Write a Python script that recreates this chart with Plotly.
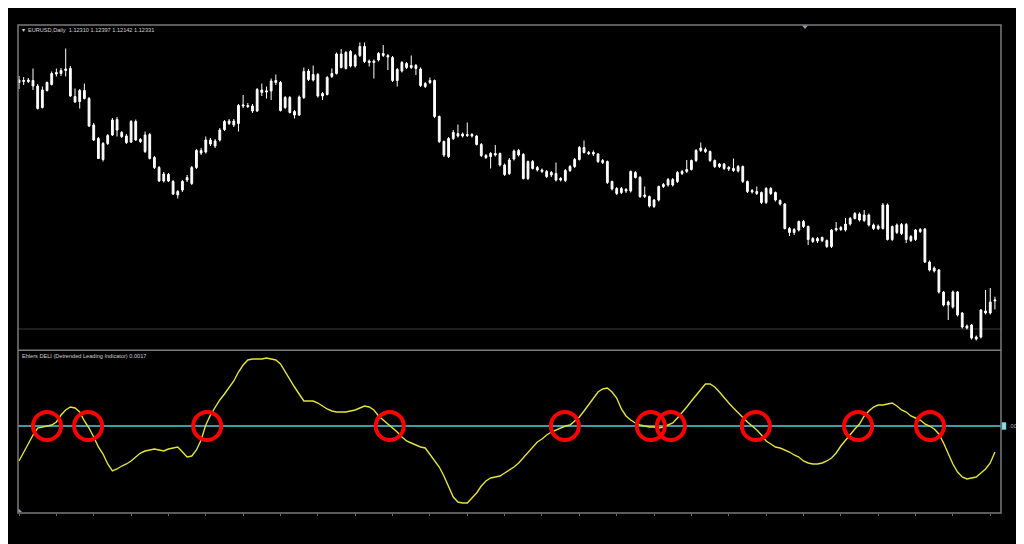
import plotly.graph_objects as go

# ---------------- data ----------------
bars = list(range(210))

open_ = [1.1673,1.1670,1.1673,1.1672,1.1661,1.1618,1.1652,1.1664,1.1688,1.1686,
         1.1692,1.1696,1.1640,1.1630,1.1652,1.1636,1.1583,1.1556,1.1514,1.1546,
         1.1563,1.1594,1.1568,1.1561,1.1549,1.1590,1.1554,1.1563,1.1564,1.1518,
         1.1498,1.1471,1.1484,1.1470,1.1443,1.1453,1.1473,1.1466,1.1498,1.1532,
         1.1529,1.1553,1.1541,1.1553,1.1574,1.1591,1.1583,1.1586,1.1621,1.1622,
         1.1621,1.1611,1.1653,1.1649,1.1651,1.1672,1.1668,1.1618,1.1638,1.1610,
         1.1603,1.1638,1.1691,1.1673,1.1684,1.1641,1.1644,1.1680,1.1686,1.1725,
         1.1696,1.1730,1.1701,1.1722,1.1740,1.1708,1.1711,1.1713,1.1726,1.1722,
         1.1718,1.1672,1.1691,1.1706,1.1698,1.1702,1.1695,1.1660,1.1668,1.1672,
         1.1600,1.1550,1.1520,1.1556,1.1566,1.1561,1.1564,1.1561,1.1561,1.1544,
         1.1522,1.1520,1.1526,1.1526,1.1503,1.1486,1.1515,1.1532,1.1524,1.1476,
         1.1510,1.1498,1.1493,1.1490,1.1483,1.1486,1.1473,1.1472,1.1492,1.1500,
         1.1514,1.1538,1.1528,1.1525,1.1525,1.1512,1.1510,1.1470,1.1456,1.1448,
         1.1454,1.1451,1.1488,1.1478,1.1440,1.1440,1.1420,1.1433,1.1460,1.1463,
         1.1474,1.1470,1.1486,1.1490,1.1494,1.1512,1.1532,1.1534,1.1530,1.1512,
         1.1500,1.1505,1.1498,1.1496,1.1491,1.1500,1.1470,1.1449,1.1450,1.1448,
         1.1428,1.1456,1.1448,1.1432,1.1425,1.1376,1.1368,1.1373,1.1390,1.1380,
         1.1356,1.1351,1.1358,1.1352,1.1340,1.1373,1.1378,1.1373,1.1385,1.1396,
         1.1405,1.1392,1.1403,1.1383,1.1376,1.1376,1.1423,1.1354,1.1383,1.1366,
         1.1384,1.1352,1.1354,1.1374,1.1375,1.1309,1.1291,1.1293,1.1249,1.1223,
         1.1219,1.1249,1.1207,1.1181,1.1183,1.1155,1.1159,1.1211,1.1207,1.12310]

high = [1.1681,1.1679,1.1677,1.1696,1.1665,1.1660,1.1670,1.1690,1.1696,1.1697,
        1.1736,1.1701,1.1656,1.1655,1.1666,1.1639,1.1587,1.1559,1.1549,1.1565,
        1.1597,1.1599,1.1571,1.1565,1.1593,1.1594,1.1557,1.1570,1.1567,1.1521,
        1.1501,1.1489,1.1487,1.1473,1.1453,1.1473,1.1483,1.1501,1.1535,1.1537,
        1.1560,1.1557,1.1555,1.1577,1.1593,1.1595,1.1595,1.1625,1.1643,1.1627,
        1.1625,1.1657,1.1666,1.1660,1.1676,1.1684,1.1671,1.1641,1.1641,1.1613,
        1.1642,1.1698,1.1695,1.1702,1.1687,1.1649,1.1681,1.1696,1.1728,1.1735,
        1.1731,1.1733,1.1725,1.1748,1.1748,1.1714,1.1714,1.1729,1.1743,1.1725,
        1.1721,1.1697,1.1711,1.1709,1.1722,1.1705,1.1698,1.1669,1.1678,1.1674,
        1.1602,1.1552,1.1559,1.1573,1.1584,1.1568,1.1588,1.1567,1.1563,1.1547,
        1.1525,1.1529,1.1543,1.1528,1.1506,1.1517,1.1534,1.1535,1.1527,1.1512,
        1.1513,1.1501,1.1496,1.1493,1.1491,1.1508,1.1479,1.1495,1.1503,1.1517,
        1.1541,1.1552,1.1531,1.1532,1.1527,1.1515,1.1512,1.1472,1.1459,1.1459,
        1.1457,1.1492,1.1491,1.1481,1.1460,1.1442,1.1435,1.1462,1.1467,1.1477,
        1.1477,1.1491,1.1493,1.1513,1.1514,1.1535,1.1548,1.1538,1.1532,1.1514,
        1.1507,1.1507,1.1501,1.1516,1.1503,1.1502,1.1472,1.1455,1.1460,1.1450,
        1.1459,1.1459,1.1450,1.1434,1.1427,1.1379,1.1377,1.1392,1.1393,1.1382,
        1.1359,1.1359,1.1360,1.1354,1.1375,1.1389,1.1381,1.1397,1.1399,1.1409,
        1.1408,1.1413,1.1406,1.1386,1.1384,1.1427,1.1426,1.1382,1.1386,1.1387,
        1.1387,1.1363,1.1375,1.1377,1.1377,1.1312,1.1300,1.1295,1.1251,1.1232,
        1.1252,1.1251,1.1209,1.1184,1.1185,1.1162,1.1215,1.1253,1.1257,1.12397]

low = [1.1655,1.1663,1.1667,1.1653,1.1614,1.1616,1.1650,1.1662,1.1680,1.1681,
       1.1680,1.1639,1.1627,1.1616,1.1634,1.1579,1.1551,1.1515,1.1510,1.1543,
       1.1561,1.1560,1.1557,1.1545,1.1547,1.1551,1.1547,1.1527,1.1514,1.1495,
       1.1469,1.1468,1.1469,1.1443,1.1436,1.1449,1.1469,1.1463,1.1495,1.1523,
       1.1526,1.1541,1.1537,1.1550,1.1571,1.1583,1.1579,1.1570,1.1617,1.1617,
       1.1607,1.1609,1.1641,1.1636,1.1633,1.1663,1.1610,1.1615,1.1606,1.1596,
       1.1601,1.1635,1.1671,1.1670,1.1638,1.1633,1.1642,1.1677,1.1684,1.1696,
       1.1694,1.1698,1.1698,1.1719,1.1707,1.1700,1.1676,1.1710,1.1719,1.1693,
       1.1669,1.1660,1.1688,1.1695,1.1695,1.1683,1.1659,1.1657,1.1665,1.1597,
       1.1547,1.1519,1.1517,1.1553,1.1558,1.1558,1.1559,1.1558,1.1542,1.1519,
       1.1515,1.1496,1.1520,1.1500,1.1481,1.1483,1.1512,1.1520,1.1474,1.1473,
       1.1494,1.1490,1.1487,1.1477,1.1479,1.1470,1.1470,1.1469,1.1489,1.1497,
       1.1512,1.1526,1.1523,1.1521,1.1507,1.1505,1.1465,1.1452,1.1443,1.1445,
       1.1447,1.1448,1.1476,1.1437,1.1437,1.1418,1.1417,1.1430,1.1457,1.1460,
       1.1460,1.1467,1.1483,1.1487,1.1492,1.1509,1.1529,1.1527,1.1509,1.1497,
       1.1497,1.1493,1.1491,1.1489,1.1488,1.1467,1.1447,1.1446,1.1443,1.1425,
       1.1425,1.1443,1.1430,1.1422,1.1374,1.1361,1.1363,1.1370,1.1377,1.1343,
       1.1347,1.1347,1.1349,1.1337,1.1337,1.1370,1.1371,1.1370,1.1382,1.1394,
       1.1390,1.1389,1.1380,1.1373,1.1373,1.1374,1.1352,1.1351,1.1365,1.1363,
       1.1347,1.1349,1.1351,1.1367,1.1307,1.1290,1.1288,1.1246,1.1220,1.1193,
       1.1216,1.1200,1.1176,1.1174,1.1154,1.1152,1.1156,1.1204,1.1204,1.12142]

close = [1.1668,1.1672,1.1670,1.1661,1.1616,1.1653,1.1668,1.1686,1.1685,1.1692,
         1.1695,1.1641,1.1629,1.1652,1.1636,1.1581,1.1553,1.1516,1.1546,1.1562,
         1.1593,1.1573,1.1560,1.1548,1.1590,1.1553,1.1550,1.1530,1.1516,1.1498,
         1.1471,1.1485,1.1471,1.1445,1.1450,1.1470,1.1478,1.1498,1.1532,1.1527,
         1.1553,1.1545,1.1551,1.1573,1.1590,1.1586,1.1591,1.1622,1.1623,1.1620,
         1.1611,1.1654,1.1648,1.1651,1.1671,1.1668,1.1612,1.1638,1.1608,1.1603,
         1.1639,1.1690,1.1674,1.1684,1.1641,1.1646,1.1678,1.1686,1.1725,1.1698,
         1.1728,1.1701,1.1722,1.1740,1.1710,1.1711,1.1708,1.1726,1.1722,1.1719,
         1.1672,1.1694,1.1708,1.1698,1.1702,1.1696,1.1662,1.1666,1.1672,1.1600,
         1.1550,1.1523,1.1556,1.1568,1.1561,1.1565,1.1562,1.1564,1.1544,1.1522,
         1.1518,1.1526,1.1523,1.1503,1.1484,1.1513,1.1531,1.1523,1.1476,1.1510,
         1.1496,1.1493,1.1490,1.1480,1.1488,1.1473,1.1476,1.1492,1.1500,1.1514,
         1.1538,1.1528,1.1526,1.1528,1.1510,1.1508,1.1468,1.1455,1.1446,1.1456,
         1.1451,1.1490,1.1478,1.1440,1.1443,1.1421,1.1433,1.1460,1.1464,1.1474,
         1.1463,1.1488,1.1490,1.1494,1.1512,1.1532,1.1537,1.1530,1.1512,1.1500,
         1.1505,1.1496,1.1495,1.1492,1.1500,1.1470,1.1450,1.1452,1.1446,1.1428,
         1.1456,1.1446,1.1433,1.1425,1.1376,1.1368,1.1374,1.1390,1.1380,1.1354,
         1.1350,1.1356,1.1352,1.1340,1.1373,1.1376,1.1374,1.1385,1.1396,1.1406,
         1.1393,1.1403,1.1383,1.1376,1.1381,1.1423,1.1354,1.1380,1.1368,1.1384,
         1.1354,1.1360,1.1373,1.1370,1.1309,1.1293,1.1297,1.1249,1.1223,1.1229,
         1.1249,1.1203,1.1179,1.1177,1.1157,1.1159,1.1213,1.1207,1.1229,1.12331]

deli = [-0.0035,-0.0026,-0.0018,-0.0009,-0.0002,-0.0001,0.0000,0.0001,0.0004,0.0011,
        0.0016,0.0019,0.0018,0.0014,0.0005,-0.0002,-0.0011,-0.0021,-0.0028,-0.0038,
        -0.0045,-0.0043,-0.0040,-0.0038,-0.0035,-0.0031,-0.0027,-0.0025,-0.0024,-0.0023,
        -0.0024,-0.0025,-0.0023,-0.0022,-0.0021,-0.0026,-0.0031,-0.0030,-0.0024,-0.0014,
        0.0001,0.0011,0.0019,0.0026,0.0032,0.0038,0.0045,0.0054,0.0061,0.0066,
        0.0067,0.0067,0.0067,0.0068,0.0067,0.0066,0.0062,0.0054,0.0046,0.0039,
        0.0032,0.0025,0.0025,0.0025,0.0023,0.0020,0.0017,0.0015,0.0014,0.0014,
        0.0014,0.0015,0.0016,0.0018,0.0020,0.0019,0.0016,0.0010,0.0006,0.0002,
        -0.0002,-0.0006,-0.0011,-0.0015,-0.0017,-0.0019,-0.0021,-0.0022,-0.0028,-0.0034,
        -0.0041,-0.0050,-0.0061,-0.0071,-0.0076,-0.0077,-0.0077,-0.0072,-0.0067,-0.0060,
        -0.0055,-0.0052,-0.0051,-0.0050,-0.0047,-0.0044,-0.0041,-0.0037,-0.0032,-0.0026,
        -0.0021,-0.0016,-0.0013,-0.0009,-0.0006,-0.0004,-0.0002,0.0000,0.0001,0.0005,
        0.0009,0.0015,0.0021,0.0028,0.0034,0.0037,0.0038,0.0034,0.0028,0.0017,
        0.0010,0.0006,0.0003,0.0001,0.0000,-0.0001,-0.0001,-0.0002,-0.0001,0.0001,
        0.0003,0.0008,0.0013,0.0019,0.0025,0.0031,0.0036,0.0042,0.0042,0.0039,
        0.0034,0.0028,0.0023,0.0018,0.0013,0.0008,0.0004,0.0000,-0.0004,-0.0009,
        -0.0015,-0.0018,-0.0021,-0.0022,-0.0024,-0.0026,-0.0029,-0.0031,-0.0035,-0.0037,
        -0.0038,-0.0038,-0.0037,-0.0035,-0.0032,-0.0027,-0.0020,-0.0014,-0.0008,-0.0003,
        0.0002,0.0010,0.0015,0.0019,0.0021,0.0021,0.0022,0.0023,0.0020,0.0016,
        0.0014,0.0010,0.0008,0.0006,0.0002,0.0000,-0.0003,-0.0008,-0.0017,-0.0028,
        -0.0038,-0.0046,-0.0051,-0.0053,-0.0052,-0.0051,-0.0047,-0.0043,-0.0037,-0.0026]

signal_bars = [6.0, 14.8, 40.3, 79.4, 116.9, 135.3, 139.6, 157.8, 179.7, 195.1]
signal_level = [0.0] * len(signal_bars)

header_text = "EURUSD,Daily\u00a0 1.12310 1.12397 1.12142 1.12331"
indicator_text = "Ehlers DELI (Detrended Leading Indicator) 0.0017"
zero_label = ".00"
price_line_level = 1.1175

# ---------------- layout helpers ----------------
# the page body has an 8px margin, so the figure is drawn 8px in from the corner
PAGE = 8
W, H = 1024 - PAGE, 544 - PAGE
L, R, T, B = 18, 1001, 25, 513          # plot area in screen pixels


def px(x):
    return (x - L) / (R - L)


def py(y):
    return (B - y) / (B - T)


BORDER = "#7a7a7a"
FONT = "Liberation Sans"

fig = go.Figure()

fig.add_trace(go.Candlestick(
    x=bars, open=open_, high=high, low=low, close=close,
    increasing=dict(line=dict(color="#ffffff", width=1), fillcolor="#ffffff"),
    decreasing=dict(line=dict(color="#ffffff", width=1), fillcolor="#ffffff"),
    whiskerwidth=0, showlegend=False, xaxis="x", yaxis="y",
))

fig.add_trace(go.Scatter(
    x=bars, y=deli, mode="lines",
    line=dict(color="#e3e33a", width=1.4),
    showlegend=False, xaxis="x", yaxis="y2",
))

fig.add_trace(go.Scatter(
    x=signal_bars, y=signal_level, mode="markers",
    marker=dict(symbol="circle-open", size=28, color="#ff0000",
                line=dict(color="#ff0000", width=4)),
    showlegend=False, xaxis="x", yaxis="y2", cliponaxis=False,
))

shapes = [
    dict(type="line", xref="paper", yref="y", x0=0, x1=1,
         y0=price_line_level, y1=price_line_level,
         line=dict(color="#3a3a3a", width=1), layer="below"),
    dict(type="line", xref="paper", yref="y2", x0=0, x1=1, y0=0, y1=0,
         line=dict(color="#3c9ca4", width=2), layer="below"),
    dict(type="rect", xref="paper", yref="paper", x0=0, x1=1, y0=0, y1=1,
         line=dict(color=BORDER, width=1.5)),
    dict(type="line", xref="paper", yref="paper", x0=0, x1=1,
         y0=py(350.3), y1=py(350.3), line=dict(color=BORDER, width=1.5)),
    dict(type="rect", xref="paper", yref="y2", x0=px(1002), x1=px(1006),
         y0=-0.00035, y1=0.00035, fillcolor="#8fdde3",
         line=dict(color="#5fb8c0", width=0.5)),
    dict(type="path", xref="paper", yref="paper",
         path=f"M {px(802)} {py(25.5)} L {px(808)} {py(25.5)} L {px(805)} {py(29)} Z",
         fillcolor="#8c9cac", line=dict(width=0)),
    dict(type="path", xref="paper", yref="paper",
         path=f"M {px(18.5)} {py(512)} L {px(22)} {py(512)} L {px(18.5)} {py(508.5)} Z",
         fillcolor="#8c9cac", line=dict(width=0)),
]

annotations = [
    dict(text="\u25be", xref="paper", yref="paper", x=px(20), y=py(29.5),
         xanchor="left", yanchor="middle", showarrow=False,
         font=dict(family=FONT, size=6, color="#d8d8d8")),
    dict(text=header_text, xref="paper", yref="paper", x=px(26), y=py(30),
         xanchor="left", yanchor="middle", showarrow=False,
         font=dict(family=FONT, size=5.6, color="#d0d0d0")),
    dict(text=indicator_text, xref="paper", yref="paper", x=px(20), y=py(355.5),
         xanchor="left", yanchor="middle", showarrow=False,
         font=dict(family=FONT, size=5.6, color="#d0d0d0")),
    dict(text=zero_label, xref="paper", yref="y2", x=px(1006.5), y=0,
         xanchor="left", yanchor="middle", showarrow=False,
         font=dict(family=FONT, size=5.6, color="#b0b0b0")),
]

fig.update_layout(
    width=W, height=H,
    margin=dict(l=L - PAGE, r=(W + PAGE) - R, t=T - PAGE, b=(H + PAGE) - B, pad=0),
    paper_bgcolor="#000000", plot_bgcolor="#000000",
    showlegend=False, hovermode=False,
    boxgap=0.45,
    xaxis=dict(range=[-0.214, 210.3], anchor="y2", showgrid=False, zeroline=False,
               showticklabels=False, ticks="outside", tick0=0, dtick=8, ticklen=2,
               tickcolor="#6a6a6a", tickwidth=1, showline=False,
               rangeslider=dict(visible=False), fixedrange=True),
    yaxis=dict(domain=[py(350), 1], range=[1.1133, 1.1783], showgrid=False,
               zeroline=False, showticklabels=False, showline=False),
    yaxis2=dict(domain=[0, py(351)], range=[-0.0087, 0.0075], showgrid=False,
                zeroline=False, showticklabels=False, showline=False),
    shapes=shapes, annotations=annotations,
)

fig.write_html("out.html")
